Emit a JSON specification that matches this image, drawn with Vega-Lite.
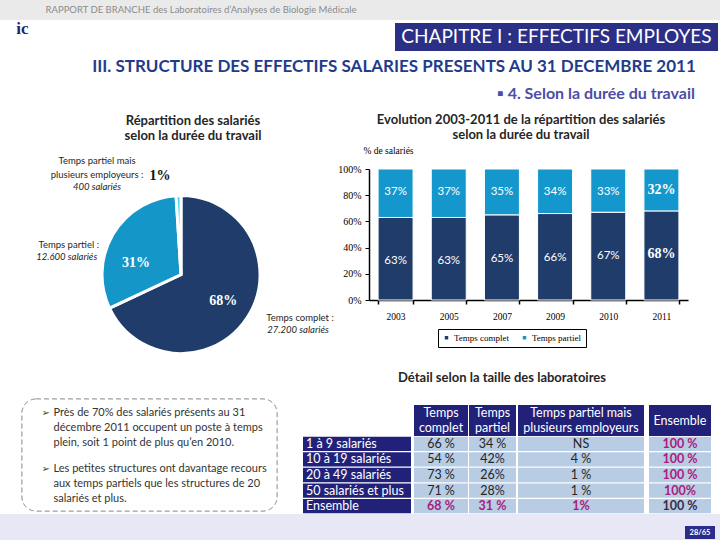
{
"$schema":"https://vega.github.io/schema/vega-lite/v6.json",
"background":"white",
"padding":0,
"config":{"view":{"stroke":null},"concat":{"spacing":0},"font":"Lato","text":{"font":"Lato"}},
"data":{"values":[{}]},
"datasets":{
 "repartition":[
  {"serie":"Temps complet","part":0.68,"libelle":"Temps complet :","effectif":"27.200 salariés"},
  {"serie":"Temps partiel","part":0.31,"libelle":"Temps partiel :","effectif":"12.600 salariés"},
  {"serie":"Temps partiel mais plusieurs employeurs","part":0.01,"libelle":"Temps partiel mais\nplusieurs employeurs :","effectif":"400 salariés"}
 ],
 "evolution":[
  {"annee":"2003","serie":"Temps complet","part":0.63},{"annee":"2003","serie":"Temps partiel","part":0.37},
  {"annee":"2005","serie":"Temps complet","part":0.63},{"annee":"2005","serie":"Temps partiel","part":0.37},
  {"annee":"2007","serie":"Temps complet","part":0.65},{"annee":"2007","serie":"Temps partiel","part":0.35},
  {"annee":"2009","serie":"Temps complet","part":0.66},{"annee":"2009","serie":"Temps partiel","part":0.34},
  {"annee":"2010","serie":"Temps complet","part":0.67},{"annee":"2010","serie":"Temps partiel","part":0.33},
  {"annee":"2011","serie":"Temps complet","part":0.68},{"annee":"2011","serie":"Temps partiel","part":0.32}
 ],
 "detail":[
  {"taille":"1 à 9 salariés","complet":"66 %","partiel":"34 %","multi":"NS","ensemble":"100 %"},
  {"taille":"10 à 19 salariés","complet":"54 %","partiel":"42%","multi":"4 %","ensemble":"100 %"},
  {"taille":"20 à 49 salariés","complet":"73 %","partiel":"26%","multi":"1 %","ensemble":"100 %"},
  {"taille":"50 salariés et plus","complet":"71 %","partiel":"28%","multi":"1 %","ensemble":"100%"},
  {"taille":"Ensemble","complet":"68 %","partiel":"31 %","multi":"1%","ensemble":"100 %"}
 ],
 "texte":[
  {"para":1,"texte":"Près de 70% des salariés présents au 31\ndécembre 2011 occupent un poste à temps\nplein, soit 1 point de plus qu’en 2010."},
  {"para":2,"texte":"Les petites structures ont davantage recours\naux temps partiels que les structures de 20\nsalariés et plus."}
 ]
},
"spacing":0,
"resolve":{"scale":{"color":"independent"},"legend":{"color":"independent"}},
"vconcat":[
 {"bounds":"flush","spacing":0,"hconcat":[
  {"width":45,"height":20,"mark":{"type":"rect","fill":"#EAEAEA"},"encoding":{}},
  {"width":312,"height":20,"layer":[{"mark":{"type":"rect","fill":"#EAEAEA"},"encoding":{}},{"mark":{"type":"text","text":"RAPPORT DE BRANCHE des Laboratoires d’Analyses de Biologie Médicale","fontSize":9.5,"color":"#8A8A8A"},"encoding":{}}]},
  {"width":363,"height":20,"mark":{"type":"rect","fill":"#EAEAEA"},"encoding":{}}
 ]},
 {"bounds":"flush","spacing":0,"hconcat":[
  {"width":45,"height":28,"layer":[{"mark":{"type":"rect","opacity":0},"encoding":{}},{"mark":{"type":"text","text":"ic","font":"Liberation Serif","fontWeight":"bold","fontSize":17,"color":"#1F2B6E","dy":-8},"encoding":{}}]},
  {"width":350,"height":28,"mark":{"type":"rect","opacity":0},"encoding":{}},
  {"width":323,"height":28,"layer":[{"mark":{"type":"rect","fill":"#2B2F86"},"encoding":{}},{"mark":{"type":"text","text":"CHAPITRE I : EFFECTIFS EMPLOYES","fontSize":19,"color":"white"},"encoding":{}}]},
  {"width":2,"height":28,"mark":{"type":"rect","opacity":0},"encoding":{}}
 ]},
 {"bounds":"flush","spacing":0,"hconcat":[
  {"width":68,"height":32,"mark":{"type":"rect","opacity":0},"encoding":{}},
  {"width":652,"height":32,"layer":[{"mark":{"type":"rect","opacity":0},"encoding":{}},{"mark":{"type":"text","text":"III. STRUCTURE DES EFFECTIFS SALARIES PRESENTS AU 31 DECEMBRE 2011","fontSize":17,"fontWeight":"bold","color":"#1F3C8C"},"encoding":{}}]}
 ]},
 {"bounds":"flush","spacing":0,"hconcat":[
  {"width":476,"height":22,"mark":{"type":"rect","opacity":0},"encoding":{}},
  {"width":240,"height":22,"layer":[{"mark":{"type":"rect","opacity":0},"encoding":{}},{"mark":{"type":"text","text":"▪ 4. Selon la durée du travail","fontSize":16,"fontWeight":"bold","color":"#4B4EA8"},"encoding":{}}]},
  {"width":4,"height":22,"mark":{"type":"rect","opacity":0},"encoding":{}}
 ]},
 {"spacing":0,
  "resolve":{"scale":{"color":"independent"},"legend":{"color":"independent"}},
  "hconcat":[
  {"spacing":0,"vconcat":[
   {"bounds":"flush","spacing":0,"hconcat":[
    {"width":93,"height":46,"mark":{"type":"rect","opacity":0},"encoding":{}},
    {"width":200,"height":46,"layer":[{"mark":{"type":"rect","opacity":0},"encoding":{}},{"mark":{"type":"text","text":"Répartition des salariés\nselon la durée du travail","lineBreak":"\n","lineHeight":15,"dy":-7.5,"fontSize":13,"fontWeight":"bold","color":"#262626"},"encoding":{}}]},
    {"width":42,"height":46,"mark":{"type":"rect","opacity":0},"encoding":{}}
   ]},
   {"bounds":"flush","spacing":0,"hconcat":[
    {"width":63,"height":247,"mark":{"type":"rect","opacity":0},"encoding":{}},
    {"width":236,"height":247,"data":{"name":"repartition"},
     "encoding":{"theta":{"field":"part","type":"quantitative","stack":true},"order":{"field":"serie","type":"ordinal"},"detail":{"field":"serie","type":"nominal"}},
     "layer":[
      {"mark":{"type":"arc","outerRadius":79,"stroke":"white","strokeWidth":3},"encoding":{"color":{"field":"serie","type":"nominal","scale":{"domain":["Temps complet","Temps partiel","Temps partiel mais plusieurs employeurs"],"range":["#1F3C6B","#1596C8","#3FD6EF"]},"legend":null}}},
      {"mark":{"type":"text","radius":50,"font":"Liberation Serif","fontWeight":"bold","fontSize":14,"color":"white"},"encoding":{"text":{"condition":{"test":"datum.serie === 'Temps complet'","field":"part","type":"quantitative","format":".0%"},"value":""}}},
      {"mark":{"type":"text","radius":50,"dx":-2,"dy":14,"font":"Liberation Serif","fontWeight":"bold","fontSize":14,"color":"white"},"encoding":{"text":{"condition":{"test":"datum.serie === 'Temps partiel'","field":"part","type":"quantitative","format":".0%"},"value":""}}},
      {"mark":{"type":"text","radius":110,"dx":-17.5,"dy":11,"font":"Liberation Serif","fontWeight":"bold","fontSize":14,"color":"#111111"},"encoding":{"text":{"condition":{"test":"datum.part < 0.1","field":"part","type":"quantitative","format":".0%"},"value":""}}},
      {"mark":{"type":"text","radius":100,"dx":34.6,"dy":-10,"fontSize":9.5,"color":"#262626"},"encoding":{"text":{"condition":{"test":"datum.serie === 'Temps complet'","field":"libelle","type":"nominal"},"value":""}}},
      {"mark":{"type":"text","radius":100,"dx":32.6,"dy":2,"fontSize":9.5,"fontStyle":"italic","color":"#262626"},"encoding":{"text":{"condition":{"test":"datum.serie === 'Temps complet'","field":"effectif","type":"nominal"},"value":""}}},
      {"mark":{"type":"text","radius":120,"dx":-9,"dy":32,"fontSize":9.5,"color":"#262626"},"encoding":{"text":{"condition":{"test":"datum.serie === 'Temps partiel'","field":"libelle","type":"nominal"},"value":""}}},
      {"mark":{"type":"text","radius":120,"dx":-11,"dy":44,"fontSize":9.5,"fontStyle":"italic","color":"#262626"},"encoding":{"text":{"condition":{"test":"datum.serie === 'Temps partiel'","field":"effectif","type":"nominal"},"value":""}}},
      {"mark":{"type":"text","radius":30,"dx":-83,"dy":-83.5,"lineBreak":"\n","lineHeight":14,"fontSize":9.5,"color":"#262626"},"encoding":{"text":{"condition":{"test":"datum.part < 0.1","field":"libelle","type":"nominal"},"value":""}}},
      {"mark":{"type":"text","radius":30,"dx":-83,"dy":-57.5,"fontSize":9.5,"fontStyle":"italic","color":"#262626"},"encoding":{"text":{"condition":{"test":"datum.part < 0.1","field":"effectif","type":"nominal"},"value":""}}}
     ]},
    {"width":36,"height":247,"mark":{"type":"rect","opacity":0},"encoding":{}}
   ]}
  ]},
  {"spacing":0,
   "resolve":{"scale":{"color":"independent"},"legend":{"color":"independent"}},
   "vconcat":[
   {"bounds":"flush","spacing":0,"hconcat":[
    {"width":36,"height":40,"mark":{"type":"rect","opacity":0},"encoding":{}},
    {"width":300,"height":40,"layer":[{"mark":{"type":"rect","opacity":0},"encoding":{}},{"mark":{"type":"text","text":"Evolution 2003-2011 de la répartition des salariés\nselon la durée du travail","lineBreak":"\n","lineHeight":15,"dy":-5,"fontSize":13,"fontWeight":"bold","color":"#262626"},"encoding":{}}]},
    {"width":49,"height":40,"mark":{"type":"rect","opacity":0},"encoding":{}}
   ]},
   {"bounds":"flush","spacing":0,
    "resolve":{"scale":{"color":"independent"},"legend":{"color":"independent"}},
    "hconcat":[
    {"width":34,"height":197,"mark":{"type":"rect","opacity":0},"encoding":{}},
    {"width":319,"height":131,"data":{"name":"evolution"},
     "encoding":{
      "x":{"field":"annee","type":"ordinal","scale":{"paddingInner":0.342,"paddingOuter":0.171},"axis":{"title":null,"labelAngle":0,"labelFont":"Liberation Serif","labelFontSize":9.5,"labelColor":"#000000","labelPadding":7,"domainColor":"#000000","domainWidth":1.5,"tickColor":"#000000","tickWidth":1.5,"tickSize":4,"tickBand":"extent"}},
      "y":{"field":"part","type":"quantitative","stack":"zero","scale":{"domain":[0,1]},"axis":{"format":".0%","values":[0,0.2,0.4,0.6,0.8,1],"title":"% de salariés","titleAngle":0,"titleX":19,"titleY":-19,"titleAlign":"center","titleBaseline":"middle","titleFont":"Liberation Serif","titleFontSize":9.5,"titleFontWeight":"normal","titleColor":"#000000","labelFont":"Liberation Serif","labelFontSize":10,"labelColor":"#000000","labelPadding":4,"domainColor":"#000000","domainWidth":1.5,"tickColor":"#000000","tickSize":4,"grid":false}},
      "detail":{"field":"serie","type":"nominal"},
      "order":{"field":"serie","type":"ordinal"}
     },
     "layer":[
      {"mark":{"type":"bar","stroke":"white","strokeWidth":1},"encoding":{"color":{"field":"serie","type":"nominal","title":null,"scale":{"domain":["Temps complet","Temps partiel"],"range":["#1F3C6B","#1497CC"]},"legend":{"orient":"none","legendX":69,"legendY":160,"direction":"horizontal","strokeColor":"#000000","padding":4,"symbolType":"square","symbolSize":12,"symbolStrokeWidth":0,"labelFont":"Liberation Serif","labelFontSize":9,"labelColor":"#000000","columnPadding":10,"labelOffset":3}}}},
      {"mark":{"type":"text","color":"white","fontSize":11.5,"dy":23},"encoding":{"text":{"condition":{"test":"datum.serie === 'Temps partiel' && datum.annee !== '2011'","field":"part","type":"quantitative","format":".0%"},"value":""}}},
      {"mark":{"type":"text","color":"white","fontSize":11.5,"dy":44},"encoding":{"text":{"condition":{"test":"datum.serie === 'Temps complet' && datum.annee !== '2011'","field":"part","type":"quantitative","format":".0%"},"value":""}}},
      {"mark":{"type":"text","color":"white","font":"Liberation Serif","fontWeight":"bold","fontSize":14,"dy":21},"encoding":{"text":{"condition":{"test":"datum.serie === 'Temps partiel' && datum.annee === '2011'","field":"part","type":"quantitative","format":".0%"},"value":""}}},
      {"mark":{"type":"text","color":"white","font":"Liberation Serif","fontWeight":"bold","fontSize":14,"dy":43},"encoding":{"text":{"condition":{"test":"datum.serie === 'Temps complet' && datum.annee === '2011'","field":"part","type":"quantitative","format":".0%"},"value":""}}}
     ]},
    {"width":32,"height":197,"mark":{"type":"rect","opacity":0},"encoding":{}}
   ]},
   {"bounds":"flush","spacing":0,"hconcat":[
    {"width":17,"height":29,"mark":{"type":"rect","opacity":0},"encoding":{}},
    {"width":300,"height":29,"layer":[{"mark":{"type":"rect","opacity":0},"encoding":{}},{"mark":{"type":"text","text":"Détail selon la taille des laboratoires","dy":-2.5,"fontSize":13,"fontWeight":"bold","color":"#262626"},"encoding":{}}]},
    {"width":68,"height":29,"mark":{"type":"rect","opacity":0},"encoding":{}}
   ]}
  ]}
 ]},
 {"spacing":0,"hconcat":[
  {"width":21,"height":115,"mark":{"type":"rect","opacity":0},"encoding":{}},
  {"width":255,"height":112,"data":{"name":"texte"},"layer":[
   {"mark":{"type":"rect","fill":"white","stroke":"#A0A0A0","strokeWidth":1,"strokeDash":[5,3],"cornerRadius":14},"encoding":{}},
   {"mark":{"type":"text","text":"➢","align":"left","dx":-108,"dy":-14,"fontSize":10,"font":"DejaVu Sans","color":"#404040"},"encoding":{"y":{"field":"para","type":"ordinal","scale":{"paddingInner":0,"paddingOuter":0.077},"axis":null}}},
   {"mark":{"type":"text","align":"left","dx":-96,"dy":-14,"lineBreak":"\n","lineHeight":15,"fontSize":11,"color":"#333333"},"encoding":{"y":{"field":"para","type":"ordinal","scale":{"paddingInner":0,"paddingOuter":0.077},"axis":null},"text":{"field":"texte","type":"nominal"}}}
  ]},
  {"width":25,"height":115,"mark":{"type":"rect","opacity":0},"encoding":{}},
  {"bounds":"flush","spacing":0,"vconcat":[
   {"width":108,"height":37,"mark":{"type":"rect","opacity":0},"encoding":{}},
   {"width":108,"height":78,"data":{"name":"detail"},"encoding":{"y":{"field":"taille","type":"nominal","sort":null,"axis":null,"scale":{"paddingInner":0.08,"paddingOuter":0.05}}},"layer":[
    {"mark":{"type":"rect","fill":"#21217A"},"encoding":{}},
    {"mark":{"type":"text","align":"left","dx":-51,"fontSize":12.5,"color":"white"},"encoding":{"text":{"field":"taille","type":"nominal"}}}
   ]}
  ]},
  {"width":3,"height":115,"mark":{"type":"rect","opacity":0},"encoding":{}},
  {"bounds":"flush","spacing":0,"vconcat":[
   {"width":54,"height":6,"mark":{"type":"rect","opacity":0},"encoding":{}},
   {"width":54,"height":31,"layer":[{"mark":{"type":"rect","fill":"#21217A"},"encoding":{}},{"mark":{"type":"text","text":"Temps\ncomplet","lineBreak":"\n","lineHeight":15,"dy":-7.5,"fontSize":12.5,"color":"white"},"encoding":{}}]},
   {"width":54,"height":78,"data":{"name":"detail"},"encoding":{"y":{"field":"taille","type":"nominal","sort":null,"axis":null,"scale":{"paddingInner":0.08,"paddingOuter":0.05}}},"layer":[
    {"mark":{"type":"rect","fill":"#B8CCE4"},"encoding":{}},
    {"mark":{"type":"text","fontSize":12.5,"color":"#262626"},"encoding":{"text":{"condition":{"test":"datum.taille !== 'Ensemble'","field":"complet","type":"nominal"},"value":""}}},
    {"mark":{"type":"text","fontSize":12.5,"fontWeight":"bold","color":"#A81C7E"},"encoding":{"text":{"condition":{"test":"datum.taille === 'Ensemble'","field":"complet","type":"nominal"},"value":""}}}
   ]}
  ]},
  {"width":1,"height":115,"mark":{"type":"rect","opacity":0},"encoding":{}},
  {"bounds":"flush","spacing":0,"vconcat":[
   {"width":47,"height":6,"mark":{"type":"rect","opacity":0},"encoding":{}},
   {"width":47,"height":31,"layer":[{"mark":{"type":"rect","fill":"#21217A"},"encoding":{}},{"mark":{"type":"text","text":"Temps\npartiel","lineBreak":"\n","lineHeight":15,"dy":-7.5,"fontSize":12.5,"color":"white"},"encoding":{}}]},
   {"width":47,"height":78,"data":{"name":"detail"},"encoding":{"y":{"field":"taille","type":"nominal","sort":null,"axis":null,"scale":{"paddingInner":0.08,"paddingOuter":0.05}}},"layer":[
    {"mark":{"type":"rect","fill":"#B8CCE4"},"encoding":{}},
    {"mark":{"type":"text","fontSize":12.5,"color":"#262626"},"encoding":{"text":{"condition":{"test":"datum.taille !== 'Ensemble'","field":"partiel","type":"nominal"},"value":""}}},
    {"mark":{"type":"text","fontSize":12.5,"fontWeight":"bold","color":"#A81C7E"},"encoding":{"text":{"condition":{"test":"datum.taille === 'Ensemble'","field":"partiel","type":"nominal"},"value":""}}}
   ]}
  ]},
  {"width":2,"height":115,"mark":{"type":"rect","opacity":0},"encoding":{}},
  {"bounds":"flush","spacing":0,"vconcat":[
   {"width":126,"height":6,"mark":{"type":"rect","opacity":0},"encoding":{}},
   {"width":126,"height":31,"layer":[{"mark":{"type":"rect","fill":"#21217A"},"encoding":{}},{"mark":{"type":"text","text":"Temps partiel mais\nplusieurs employeurs","lineBreak":"\n","lineHeight":15,"dy":-7.5,"fontSize":12.5,"color":"white"},"encoding":{}}]},
   {"width":126,"height":78,"data":{"name":"detail"},"encoding":{"y":{"field":"taille","type":"nominal","sort":null,"axis":null,"scale":{"paddingInner":0.08,"paddingOuter":0.05}}},"layer":[
    {"mark":{"type":"rect","fill":"#B8CCE4"},"encoding":{}},
    {"mark":{"type":"text","fontSize":12.5,"color":"#262626"},"encoding":{"text":{"condition":{"test":"datum.taille !== 'Ensemble'","field":"multi","type":"nominal"},"value":""}}},
    {"mark":{"type":"text","fontSize":12.5,"fontWeight":"bold","color":"#A81C7E"},"encoding":{"text":{"condition":{"test":"datum.taille === 'Ensemble'","field":"multi","type":"nominal"},"value":""}}}
   ]}
  ]},
  {"width":5,"height":115,"mark":{"type":"rect","opacity":0},"encoding":{}},
  {"bounds":"flush","spacing":0,"vconcat":[
   {"width":62,"height":6,"mark":{"type":"rect","opacity":0},"encoding":{}},
   {"width":62,"height":31,"layer":[{"mark":{"type":"rect","fill":"#21217A"},"encoding":{}},{"mark":{"type":"text","text":"Ensemble","fontSize":12.5,"color":"white"},"encoding":{}}]},
   {"width":62,"height":78,"data":{"name":"detail"},"encoding":{"y":{"field":"taille","type":"nominal","sort":null,"axis":null,"scale":{"paddingInner":0.08,"paddingOuter":0.05}}},"layer":[
    {"mark":{"type":"rect","fill":"#B8CCE4"},"encoding":{}},
    {"mark":{"type":"text","fontSize":12.5,"fontWeight":"bold"},"encoding":{"text":{"field":"ensemble","type":"nominal"},"color":{"condition":{"test":"datum.taille === 'Ensemble'","value":"#3A2C4C"},"value":"#A81C7E"}}}
   ]}
  ]},
  {"width":10,"height":115,"mark":{"type":"rect","opacity":0},"encoding":{}}
 ]},
 {"spacing":0,"hconcat":[
  {"width":685,"height":30,"mark":{"type":"rect","fill":"#E7E7F6"},"encoding":{}},
  {"bounds":"flush","spacing":0,"vconcat":[
   {"width":30,"height":12,"mark":{"type":"rect","fill":"#E7E7F6"},"encoding":{}},
   {"width":30,"height":13,"layer":[{"mark":{"type":"rect","fill":"#2B2B8C"},"encoding":{}},{"mark":{"type":"text","text":"28/65","fontSize":7.5,"fontWeight":"bold","color":"white"},"encoding":{}}]},
   {"width":30,"height":5,"mark":{"type":"rect","fill":"#E7E7F6"},"encoding":{}}
  ]},
  {"width":5,"height":30,"mark":{"type":"rect","fill":"#E7E7F6"},"encoding":{}}
 ]}
]
}
